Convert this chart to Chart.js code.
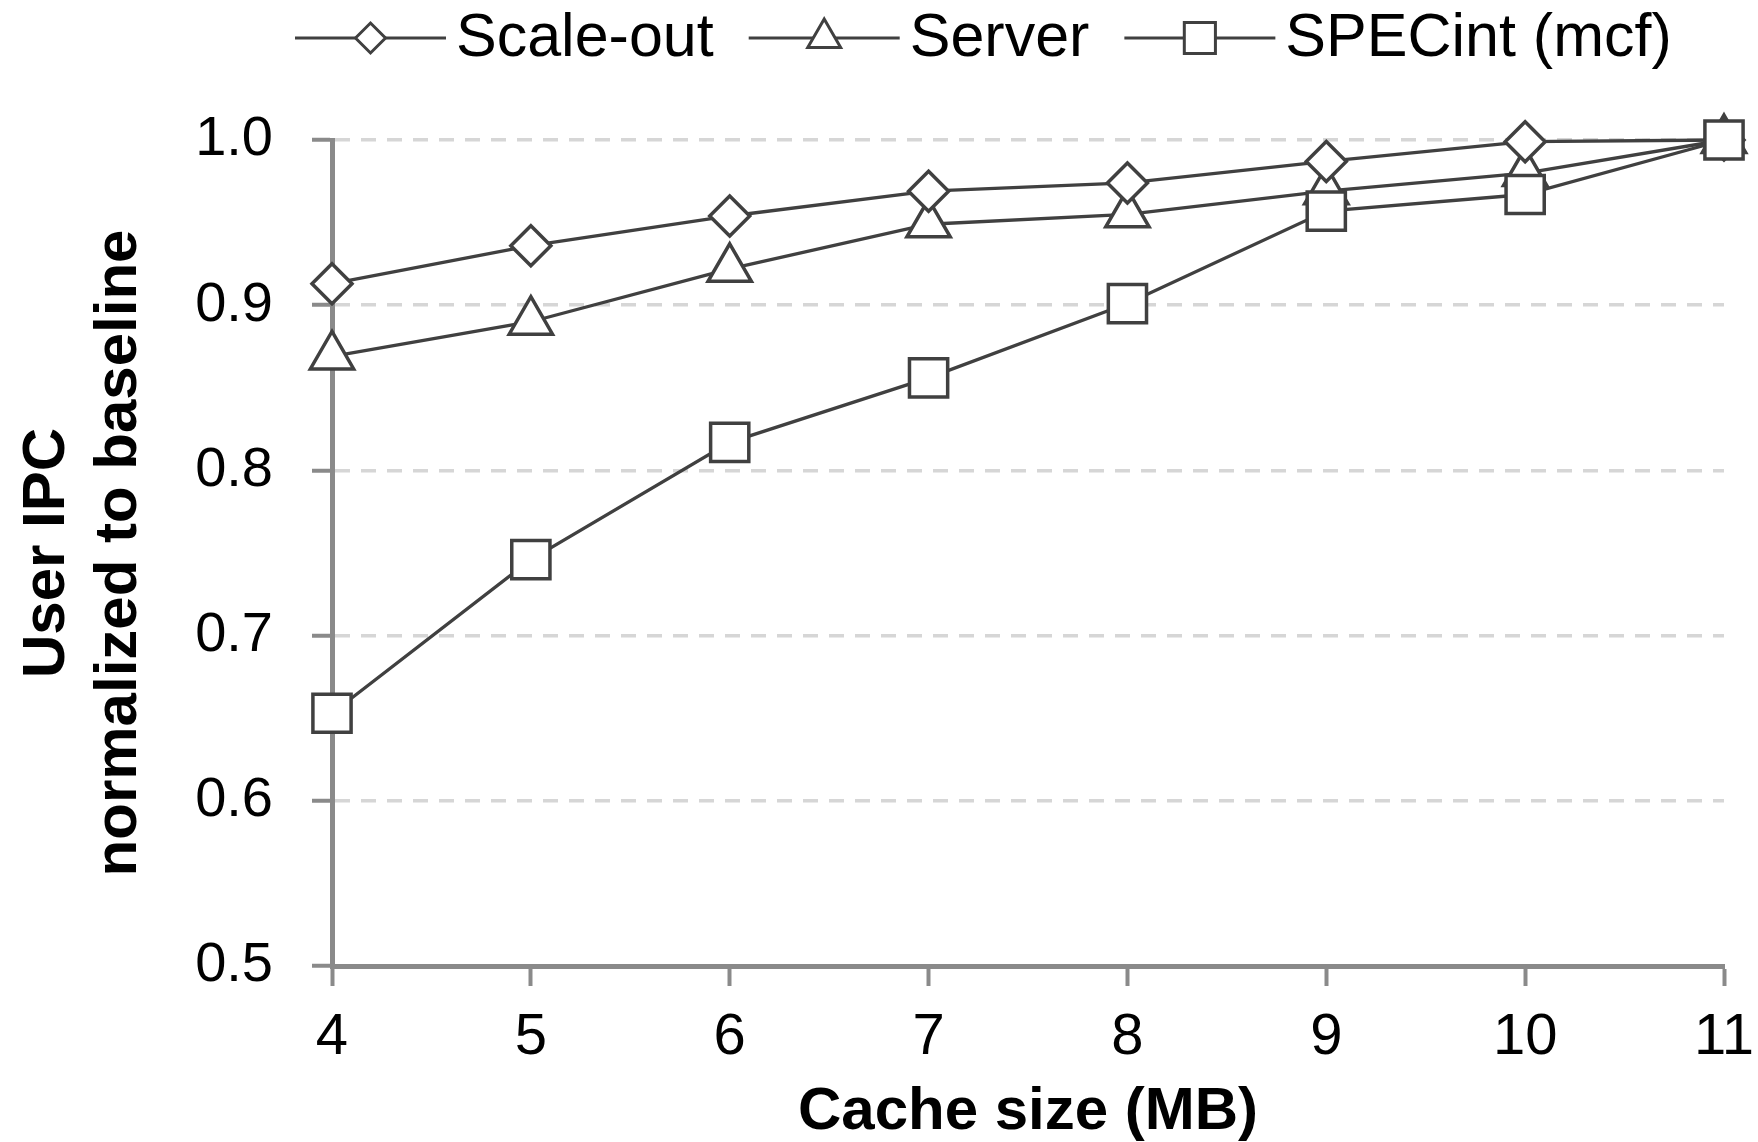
<!DOCTYPE html>
<html>
<head>
<meta charset="utf-8">
<title>User IPC vs cache size</title>
<script src="https://cdn.jsdelivr.net/npm/chart.js@4.4.1/dist/chart.umd.min.js"></script>
<style>
    html, body { margin: 0; padding: 0; background: #ffffff; }
    #wrap { width: 1758px; height: 1142px; position: relative; }
</style>
</head>
<body>
<div id="wrap"><canvas id="ipcChart"></canvas></div>
<script>
// Chart data
const cacheSizes = ['4', '5', '6', '7', '8', '9', '10', '11'];
const scaleOut = [0.913, 0.936, 0.954, 0.969, 0.974, 0.987, 0.999, 1.0];
const server = [0.869, 0.890, 0.922, 0.949, 0.955, 0.969, 0.980, 1.0];
const specInt = [0.653, 0.746, 0.817, 0.856, 0.901, 0.957, 0.967, 1.0];
const yTicks = [0.5, 0.6, 0.7, 0.8, 0.9, 1.0];

const FONT = "'Liberation Sans', Arial, Helvetica, sans-serif";
const INK = '#404040';
const AXIS = '#8a8a8a';
const GRID = '#d6d6d6';

/**
 * Legend drawn as "line - marker - line  Label", like the original figure
 */
const lineLegend = {
    id: 'lineLegend',
    afterDraw(chart) {
        const ctx = chart.ctx;
        const y = 38;
        const lineLen = 151;
        let x = 295;

        ctx.save();
        ctx.font = '61px ' + FONT;
        ctx.textBaseline = 'middle';
        ctx.textAlign = 'left';

        chart.data.datasets.forEach(ds => {
            ctx.strokeStyle = INK;
            ctx.lineWidth = 3;
            ctx.setLineDash([]);
            ctx.beginPath();
            ctx.moveTo(x, y);
            ctx.lineTo(x + lineLen, y);
            ctx.stroke();

            ctx.fillStyle = '#ffffff';
            ctx.strokeStyle = INK;
            ctx.lineWidth = 3;
            Chart.helpers.drawPoint(ctx, {
                pointStyle: ds.pointStyle,
                radius: ds.legendRadius,
                rotation: 0,
                borderWidth: 3
            }, x + lineLen / 2, y);

            ctx.fillStyle = '#000000';
            ctx.fillText(ds.label, x + lineLen + 10, y + 1);
            x += lineLen + 10 + ctx.measureText(ds.label).width + 35;
        });
        ctx.restore();
    }
};

function makeDataset(label, values, style, radius, legendRadius, order) {
    return {
        label: label,
        data: values,
        order: order,
        borderColor: INK,
        borderWidth: 3.3,
        backgroundColor: '#ffffff',
        pointStyle: style,
        pointRadius: radius,
        pointHoverRadius: radius,
        pointBorderWidth: 3.5,
        pointBorderColor: INK,
        pointBackgroundColor: '#ffffff',
        legendRadius: legendRadius,
        tension: 0,
        clip: false
    };
}

document.addEventListener('DOMContentLoaded', function() {
    const ctx = document.getElementById('ipcChart').getContext('2d');

    new Chart(ctx, {
        type: 'line',
        data: {
            labels: cacheSizes,
            datasets: [
                makeDataset('Scale-out', scaleOut, 'rectRot', 20, 15, 1),
                makeDataset('Server', server, 'triangle', 25, 19, 2),
                makeDataset('SPECint (mcf)', specInt, 'rect', 27, 22, 0)
            ]
        },
        options: {
            responsive: true,
            maintainAspectRatio: false,
            animation: false,
            layout: {
                padding: { top: 140, right: 34, bottom: 0, left: 0 }
            },
            plugins: {
                legend: { display: false },
                tooltip: { enabled: false }
            },
            scales: {
                x: {
                    type: 'category',
                    offset: false,
                    afterFit(scale) {
                        scale.height = 176;
                        scale.paddingLeft = 0;
                        scale.paddingRight = 0;
                    },
                    grid: {
                        drawOnChartArea: false,
                        drawTicks: true,
                        tickLength: 20,
                        tickColor: AXIS,
                        tickWidth: 4
                    },
                    border: { display: true, color: AXIS, width: 5 },
                    ticks: {
                        color: '#000000',
                        padding: 17,
                        maxRotation: 0,
                        font: { family: FONT, size: 58 }
                    },
                    title: {
                        display: true,
                        text: 'Cache size (MB)',
                        color: '#000000',
                        padding: { top: 0, bottom: 0 },
                        font: { family: FONT, size: 60, weight: 'bold', lineHeight: 1.0 }
                    }
                },
                y: {
                    min: 0.5,
                    max: 1.0,
                    afterFit(scale) { scale.width = 332; },
                    afterBuildTicks(scale) {
                        scale.ticks = yTicks.map(v => ({ value: v }));
                    },
                    grid: {
                        color: GRID,
                        lineWidth: 3.5,
                        drawTicks: true,
                        tickLength: 20,
                        tickColor: AXIS,
                        tickWidth: 4,
                        tickBorderDash: []
                    },
                    border: { display: true, color: AXIS, width: 5, dash: [15, 11] },
                    ticks: {
                        color: '#000000',
                        padding: 39,
                        callback: v => Number(v).toFixed(1),
                        font: { family: FONT, size: 56 }
                    },
                    title: {
                        display: true,
                        text: ['User IPC', 'normalized to baseline'],
                        color: '#000000',
                        padding: { top: 11, bottom: 0 },
                        font: { family: FONT, size: 60, weight: 'bold', lineHeight: 1.2 }
                    }
                }
            }
        },
        plugins: [lineLegend]
    });
});
</script>
</body>
</html>
